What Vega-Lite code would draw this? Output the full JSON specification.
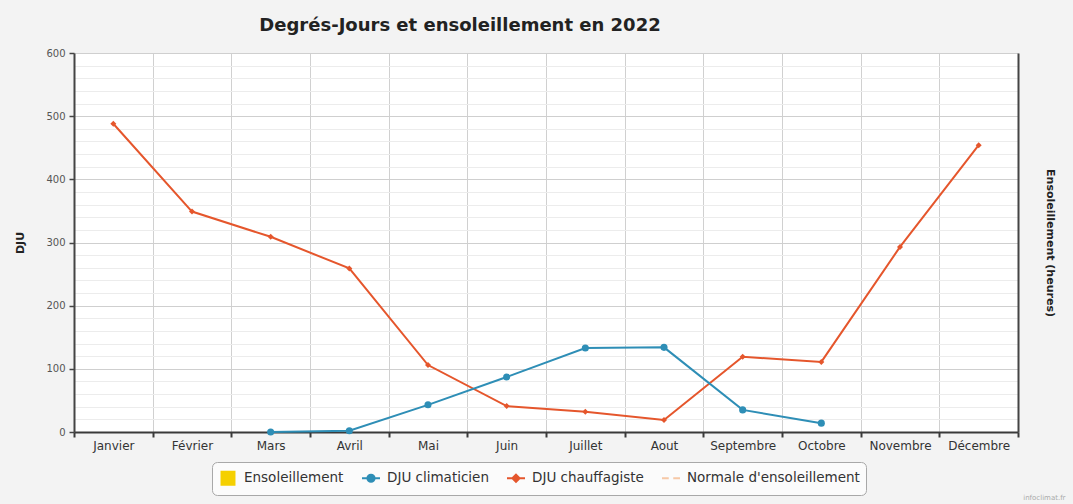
{
  "$schema": "https://vega.github.io/schema/vega-lite/v6.json",
  "width": 944,
  "height": 379,
  "autosize": {"type": "none"},
  "padding": {"left": 74, "top": 53, "right": 55, "bottom": 72},
  "background": "#f3f3f3",
  "config": {
    "view": {"fill": "white", "stroke": null},
    "font": "DejaVu Sans"
  },
  "title": {
    "text": "Degrés-Jours et ensoleillement en 2022",
    "font": "DejaVu Sans",
    "fontSize": 18,
    "fontWeight": "bold",
    "color": "#222222",
    "anchor": "middle",
    "dx": -86,
    "offset": 13
  },
  "data": {
    "values": [
      {"mois": "Janvier", "serie": "DJU chauffagiste", "dju": 488},
      {"mois": "Février", "serie": "DJU chauffagiste", "dju": 349},
      {"mois": "Mars", "serie": "DJU chauffagiste", "dju": 309},
      {"mois": "Avril", "serie": "DJU chauffagiste", "dju": 259},
      {"mois": "Mai", "serie": "DJU chauffagiste", "dju": 106},
      {"mois": "Juin", "serie": "DJU chauffagiste", "dju": 41},
      {"mois": "Juillet", "serie": "DJU chauffagiste", "dju": 32},
      {"mois": "Aout", "serie": "DJU chauffagiste", "dju": 19},
      {"mois": "Septembre", "serie": "DJU chauffagiste", "dju": 119},
      {"mois": "Octobre", "serie": "DJU chauffagiste", "dju": 111},
      {"mois": "Novembre", "serie": "DJU chauffagiste", "dju": 293},
      {"mois": "Décembre", "serie": "DJU chauffagiste", "dju": 454},
      {"mois": "Mars", "serie": "DJU climaticien", "dju": 0},
      {"mois": "Avril", "serie": "DJU climaticien", "dju": 2},
      {"mois": "Mai", "serie": "DJU climaticien", "dju": 43},
      {"mois": "Juin", "serie": "DJU climaticien", "dju": 87},
      {"mois": "Juillet", "serie": "DJU climaticien", "dju": 133},
      {"mois": "Aout", "serie": "DJU climaticien", "dju": 134},
      {"mois": "Septembre", "serie": "DJU climaticien", "dju": 35},
      {"mois": "Octobre", "serie": "DJU climaticien", "dju": 14}
    ]
  },
  "encoding": {
    "x": {
      "field": "mois",
      "type": "nominal",
      "sort": ["Janvier", "Février", "Mars", "Avril", "Mai", "Juin", "Juillet", "Aout", "Septembre", "Octobre", "Novembre", "Décembre"],
      "scale": {"paddingInner": 0, "paddingOuter": 0},
      "axis": {
        "tickBand": "extent",
        "grid": true,
        "gridColor": "#d0d0d0",
        "gridWidth": 1,
        "domainColor": "#3a3a3a",
        "domainWidth": 2,
        "tickColor": "#3a3a3a",
        "tickWidth": 2,
        "tickSize": 5,
        "labelAngle": 0,
        "labelFont": "DejaVu Sans",
        "labelFontSize": 12,
        "labelColor": "#333333",
        "labelPadding": 3,
        "title": "infoclimat.fr",
        "titleFont": "DejaVu Sans",
        "titleFontSize": 7,
        "titleFontWeight": "normal",
        "titleColor": "#aaaaaa",
        "titleAnchor": "end",
        "titleAlign": "right",
        "titleBaseline": "bottom",
        "titleX": 991,
        "titleY": 68
      }
    }
  },
  "layer": [
    {
      "encoding": {
        "y": {
          "field": "dju",
          "type": "quantitative",
          "scale": {"domain": [0, 600], "nice": false},
          "axis": {
            "values": [0, 20, 40, 60, 80, 100, 120, 140, 160, 180, 200, 220, 240, 260, 280, 300, 320, 340, 360, 380, 400, 420, 440, 460, 480, 500, 520, 540, 560, 580, 600],
            "labelExpr": "datum.value % 100 === 0 ? datum.label : ''",
            "gridColor": {"condition": {"test": "datum.value % 100 === 0", "value": "#cfcfcf"}, "value": "#ececec"},
            "tickOpacity": {"condition": {"test": "datum.value % 100 === 0", "value": 1}, "value": 0},
            "tickColor": "#444444",
            "tickSize": 5,
            "tickWidth": 1.5,
            "domainColor": "#444444",
            "domainWidth": 2,
            "labelFont": "DejaVu Sans",
            "labelFontSize": 10,
            "labelColor": "#555555",
            "labelPadding": 4,
            "title": "DJU",
            "titleFont": "DejaVu Sans",
            "titleFontSize": 11,
            "titleFontWeight": "bold",
            "titleColor": "#222222",
            "titlePadding": 20
          }
        },
        "color": {
          "field": "serie",
          "type": "nominal",
          "scale": {
            "domain": ["Ensoleillement", "DJU climaticien", "DJU chauffagiste", "Normale d'ensoleillement"],
            "range": ["#f5d000", "#2e8eb6", "#e5562c", "#f6c8a6"]
          },
          "legend": {
            "title": null,
            "orient": "none",
            "direction": "horizontal",
            "legendX": 138,
            "legendY": 409,
            "strokeColor": "#a8a8a8",
            "cornerRadius": 5,
            "fillColor": "#fbfbfb",
            "padding": 6,
            "symbolSize": 324,
            "symbolStrokeWidth": 2,
            "labelFont": "DejaVu Sans",
            "labelFontSize": 13.5,
            "labelLimit": 400,
            "labelColor": "#333333",
            "labelOffset": 6,
            "labelBaseline": "middle",
            "columnPadding": 14,
            "encode": {
              "symbols": {
                "update": {
                  "shape": {"signal": "datum.value === 'Ensoleillement' ? 'M-0.72,-0.72H0.72V0.72H-0.72Z' : datum.value === 'DJU climaticien' ? 'M0,-0.72L0,-0.72M0,0.72L0,0.72M-1,0L1,0M-0.4,0A0.4,0.4,0,1,1,0.4,0A0.4,0.4,0,1,1,-0.4,0Z' : datum.value === 'DJU chauffagiste' ? 'M0,-0.72L0,-0.72M0,0.72L0,0.72M-1,0L1,0M-0.4,0L0,-0.4L0.4,0L0,0.4Z' : 'M0,-0.72L0,-0.72M0,0.72L0,0.72M-1,0L-0.25,0M0.25,0L1,0'"},
                  "fill": {"signal": "datum.value === 'Ensoleillement' ? '#f5d000' : datum.value === 'DJU climaticien' ? '#2e8eb6' : datum.value === 'DJU chauffagiste' ? '#e5562c' : 'transparent'"},
                  "stroke": {"signal": "datum.value === 'Ensoleillement' ? '#f5d000' : datum.value === 'DJU climaticien' ? '#2e8eb6' : datum.value === 'DJU chauffagiste' ? '#e5562c' : '#f6c8a6'"},
                  "strokeWidth": {"value": 2},
                  "opacity": {"value": 1}
                }
              }
            }
          }
        }
      },
      "layer": [
        {
          "mark": {"type": "line", "strokeWidth": 2}
        },
        {
          "mark": {"type": "point", "filled": true, "opacity": 1},
          "encoding": {
            "shape": {
              "field": "serie",
              "type": "nominal",
              "scale": {"domain": ["DJU climaticien", "DJU chauffagiste"], "range": ["circle", "diamond"]},
              "legend": null
            },
            "size": {
              "field": "serie",
              "type": "nominal",
              "scale": {"domain": ["DJU climaticien", "DJU chauffagiste"], "range": [50, 36]},
              "legend": null
            }
          }
        }
      ]
    },
    {
      "mark": {"type": "point", "opacity": 0},
      "encoding": {
        "y": {
          "field": "dju",
          "type": "quantitative",
          "scale": {"domain": [0, 600], "nice": false},
          "axis": {
            "orient": "right",
            "labels": false,
            "ticks": false,
            "grid": false,
            "domainColor": "#444444",
            "domainWidth": 2,
            "title": "Ensoleillement (heures)",
            "titleFont": "DejaVu Sans",
            "titleFontSize": 11,
            "titleFontWeight": "bold",
            "titleColor": "#222222",
            "titlePadding": 26
          }
        }
      }
    }
  ],
  "resolve": {"scale": {"y": "independent"}}
}
